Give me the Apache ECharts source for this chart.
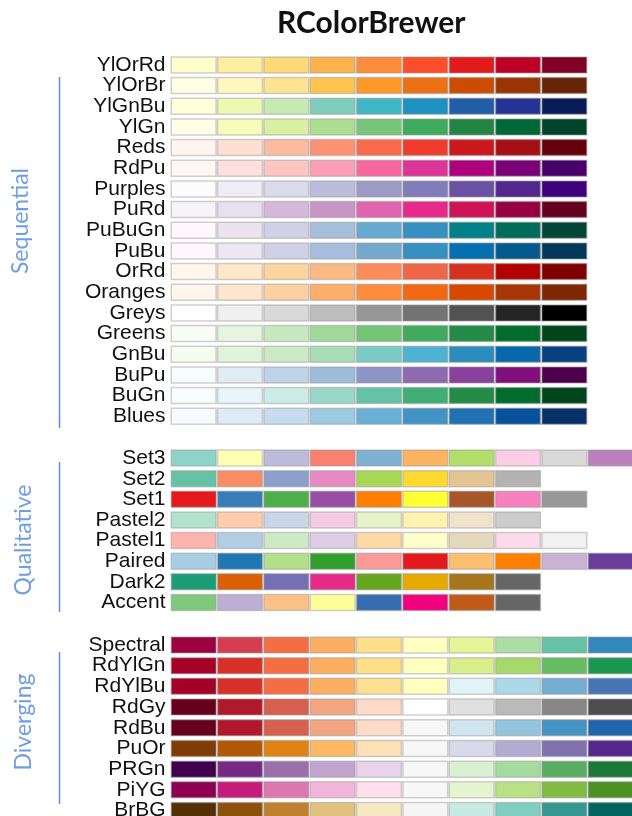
<!DOCTYPE html>
<html>
<head>
<meta charset="utf-8">
<script src="https://cdn.jsdelivr.net/npm/echarts@6/dist/echarts.min.js"></script>
<style>
  html, body { margin: 0; padding: 0; background: #fff; }
  #chart { width: 632px; height: 816px; }
</style>
</head>
<body>
<div id="chart"></div>
<script>
// palette names per group (top to bottom)
var seqNames = ['YlOrRd', 'YlOrBr', 'YlGnBu', 'YlGn', 'Reds', 'RdPu', 'Purples', 'PuRd', 'PuBuGn',
  'PuBu', 'OrRd', 'Oranges', 'Greys', 'Greens', 'GnBu', 'BuPu', 'BuGn', 'Blues'];
var qualNames = ['Set3', 'Set2', 'Set1', 'Pastel2', 'Pastel1', 'Paired', 'Dark2', 'Accent'];
var divNames = ['Spectral', 'RdYlGn', 'RdYlBu', 'RdGy', 'RdBu', 'PuOr', 'PRGn', 'PiYG', 'BrBG'];

// colour values of each palette
var seqColors = [
  ['#ffffcc', '#ffeda0', '#fed976', '#feb24c', '#fd8d3c', '#fc4e2a', '#e31a1c', '#bd0026', '#800026'],
  ['#ffffe5', '#fff7bc', '#fee391', '#fec44f', '#fe9929', '#ec7014', '#cc4c02', '#993404', '#662506'],
  ['#ffffd9', '#edf8b1', '#c7e9b4', '#7fcdbb', '#41b6c4', '#1d91c0', '#225ea8', '#253494', '#081d58'],
  ['#ffffe5', '#f7fcb9', '#d9f0a3', '#addd8e', '#78c679', '#41ab5d', '#238443', '#006837', '#004529'],
  ['#fff5f0', '#fee0d2', '#fcbba1', '#fc9272', '#fb6a4a', '#ef3b2c', '#cb181d', '#a50f15', '#67000d'],
  ['#fff7f3', '#fde0dd', '#fcc5c0', '#fa9fb5', '#f768a1', '#dd3497', '#ae017e', '#7a0177', '#49006a'],
  ['#fcfbfd', '#efedf5', '#dadaeb', '#bcbddc', '#9e9ac8', '#807dba', '#6a51a3', '#54278f', '#3f007d'],
  ['#f7f4f9', '#e7e1ef', '#d4b9da', '#c994c7', '#df65b0', '#e7298a', '#ce1256', '#980043', '#67001f'],
  ['#fff7fb', '#ece2f0', '#d0d1e6', '#a6bddb', '#67a9cf', '#3690c0', '#02818a', '#016c59', '#014636'],
  ['#fff7fb', '#ece7f2', '#d0d1e6', '#a6bddb', '#74a9cf', '#3690c0', '#0570b0', '#045a8d', '#023858'],
  ['#fff7ec', '#fee8c8', '#fdd49e', '#fdbb84', '#fc8d59', '#ef6548', '#d7301f', '#b30000', '#7f0000'],
  ['#fff5eb', '#fee6ce', '#fdd0a2', '#fdae6b', '#fd8d3c', '#f16913', '#d94801', '#a63603', '#7f2704'],
  ['#ffffff', '#f0f0f0', '#d9d9d9', '#bdbdbd', '#969696', '#737373', '#525252', '#252525', '#000000'],
  ['#f7fcf5', '#e5f5e0', '#c7e9c0', '#a1d99b', '#74c476', '#41ab5d', '#238b45', '#006d2c', '#00441b'],
  ['#f7fcf0', '#e0f3db', '#ccebc5', '#a8ddb5', '#7bccc4', '#4eb3d3', '#2b8cbe', '#0868ac', '#084081'],
  ['#f7fcfd', '#e0ecf4', '#bfd3e6', '#9ebcda', '#8c96c6', '#8c6bb1', '#88419d', '#810f7c', '#4d004b'],
  ['#f7fcfd', '#e5f5f9', '#ccece6', '#99d8c9', '#66c2a4', '#41ae76', '#238b45', '#006d2c', '#00441b'],
  ['#f7fbff', '#deebf7', '#c6dbef', '#9ecae1', '#6baed6', '#4292c6', '#2171b5', '#08519c', '#08306b']
];
var qualColors = [
  ['#8dd3c7', '#ffffb3', '#bebada', '#fb8072', '#80b1d3', '#fdb462', '#b3de69', '#fccde5', '#d9d9d9', '#bc80bd', '#ccebc5', '#ffed6f'],
  ['#66c2a5', '#fc8d62', '#8da0cb', '#e78ac3', '#a6d854', '#ffd92f', '#e5c494', '#b3b3b3'],
  ['#e41a1c', '#377eb8', '#4daf4a', '#984ea3', '#ff7f00', '#ffff33', '#a65628', '#f781bf', '#999999'],
  ['#b3e2cd', '#fdcdac', '#cbd5e8', '#f4cae4', '#e6f5c9', '#fff2ae', '#f1e2cc', '#cccccc'],
  ['#fbb4ae', '#b3cde3', '#ccebc5', '#decbe4', '#fed9a6', '#ffffcc', '#e5d8bd', '#fddaec', '#f2f2f2'],
  ['#a6cee3', '#1f78b4', '#b2df8a', '#33a02c', '#fb9a99', '#e31a1c', '#fdbf6f', '#ff7f00', '#cab2d6', '#6a3d9a', '#ffff99', '#b15928'],
  ['#1b9e77', '#d95f02', '#7570b3', '#e7298a', '#66a61e', '#e6ab02', '#a6761d', '#666666'],
  ['#7fc97f', '#beaed4', '#fdc086', '#ffff99', '#386cb0', '#f0027f', '#bf5b17', '#666666']
];
var divColors = [
  ['#9e0142', '#d53e4f', '#f46d43', '#fdae61', '#fee08b', '#ffffbf', '#e6f598', '#abdda4', '#66c2a5', '#3288bd', '#5e4fa2'],
  ['#a50026', '#d73027', '#f46d43', '#fdae61', '#fee08b', '#ffffbf', '#d9ef8b', '#a6d96a', '#66bd63', '#1a9850', '#006837'],
  ['#a50026', '#d73027', '#f46d43', '#fdae61', '#fee090', '#ffffbf', '#e0f3f8', '#abd9e9', '#74add1', '#4575b4', '#313695'],
  ['#67001f', '#b2182b', '#d6604d', '#f4a582', '#fddbc7', '#ffffff', '#e0e0e0', '#bababa', '#878787', '#4d4d4d', '#1a1a1a'],
  ['#67001f', '#b2182b', '#d6604d', '#f4a582', '#fddbc7', '#f7f7f7', '#d1e5f0', '#92c5de', '#4393c3', '#2166ac', '#053061'],
  ['#7f3b08', '#b35806', '#e08214', '#fdb863', '#fee0b6', '#f7f7f7', '#d8daeb', '#b2abd2', '#8073ac', '#542788', '#2d004b'],
  ['#40004b', '#762a83', '#9970ab', '#c2a5cf', '#e7d4e8', '#f7f7f7', '#d9f0d3', '#a6dba0', '#5aae61', '#1b7837', '#00441b'],
  ['#8e0152', '#c51b7d', '#de77ae', '#f1b6da', '#fde0ef', '#f7f7f7', '#e6f5d0', '#b8e186', '#7fbc41', '#4d9221', '#276419'],
  ['#543005', '#8c510a', '#bf812d', '#dfc27d', '#f6e8c3', '#f5f5f5', '#c7eae5', '#80cdc1', '#35978f', '#01665e', '#003c30']
];

var colSlots = ['1', '2', '3', '4', '5', '6', '7', '8', '9', '10', '11', '12'];
var groupTitles = ['Sequential', 'Qualitative', 'Diverging'];

var chart = echarts.init(document.getElementById('chart'));

function toData(names, colors) {
  var out = [];
  names.forEach(function (n, r) {
    colors[r].forEach(function (c, i) {
      out.push({ value: [i, n], itemStyle: { color: c } });
    });
  });
  return out;
}

function renderCell(params, api) {
  var p = api.coord([api.value(0), api.value(1)]);
  var sz = api.size([1, 1]);
  var w = sz[0] - 1.5, h = 16;
  return {
    type: 'rect',
    shape: { x: p[0] - w / 2, y: p[1] - h / 2, width: w, height: h },
    style: { fill: api.visual('color'), stroke: 'rgba(150,150,150,0.45)', lineWidth: 1.5 }
  };
}

// the palettes run on past the right edge of the picture
var grids = [
  { left: 170.5, top: 54.6, width: 556, height: 372, outerBoundsMode: 'none' },
  { left: 170.5, top: 447.8, width: 556, height: 165, outerBoundsMode: 'none' },
  { left: 170.5, top: 634.6, width: 556, height: 186.3, outerBoundsMode: 'none' }
];
var groups = [[seqNames, seqColors], [qualNames, qualColors], [divNames, divColors]];

var option = {
  backgroundColor: '#fff',
  animation: false,
  title: {
    text: 'RColorBrewer',
    left: 272, top: 3,
    textStyle: { fontFamily: 'Lato', fontWeight: 'bold', fontSize: 30, color: '#111' }
  },
  grid: grids,
  xAxis: grids.map(function (g, i) {
    return { type: 'category', gridIndex: i, data: colSlots, show: false };
  }),
  yAxis: groups.map(function (g, i) {
    return {
      type: 'category', gridIndex: i, data: g[0], inverse: true,
      axisLine: { show: false }, axisTick: { show: false }, splitLine: { show: false },
      axisLabel: { interval: 0, color: '#111', fontFamily: 'Liberation Sans', fontSize: 21, margin: 5 }
    };
  }),
  series: groups.map(function (g, i) {
    return {
      type: 'custom', xAxisIndex: i, yAxisIndex: i,
      renderItem: renderCell, data: toData(g[0], g[1])
    };
  }),
  graphic: [
    { type: 'line', shape: { x1: 59.5, y1: 77, x2: 59.5, y2: 428 }, style: { stroke: '#5b8fd8', lineWidth: 1.5 } },
    { type: 'line', shape: { x1: 59.5, y1: 462, x2: 59.5, y2: 612 }, style: { stroke: '#5b8fd8', lineWidth: 1.5 } },
    { type: 'line', shape: { x1: 59.5, y1: 652, x2: 59.5, y2: 804 }, style: { stroke: '#5b8fd8', lineWidth: 1.5 } },
    { type: 'text', x: 21, y: 221, rotation: Math.PI / 2,
      style: { text: groupTitles[0], fill: '#6f9fe2', font: '23px Lato', align: 'center', verticalAlign: 'middle' } },
    { type: 'text', x: 24, y: 540, rotation: Math.PI / 2,
      style: { text: groupTitles[1], fill: '#6f9fe2', font: '23px Lato', align: 'center', verticalAlign: 'middle' } },
    { type: 'text', x: 24, y: 722, rotation: Math.PI / 2,
      style: { text: groupTitles[2], fill: '#6f9fe2', font: '23px Lato', align: 'center', verticalAlign: 'middle' } }
  ]
};
chart.setOption(option);
</script>
</body>
</html>
